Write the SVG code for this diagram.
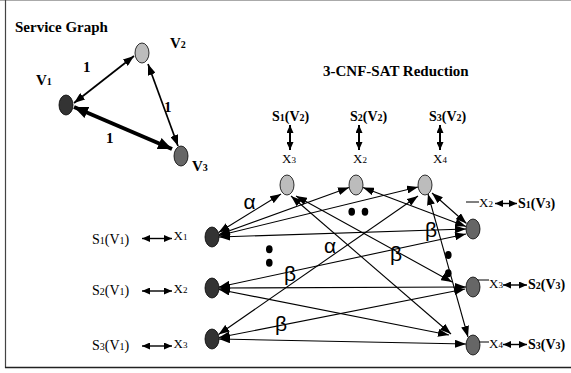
<svg xmlns="http://www.w3.org/2000/svg" width="571" height="373" viewBox="0 0 571 373">
  <defs>
    <style>
      .tb{font-family:"Liberation Serif","Times New Roman",serif;font-weight:bold;font-size:15px;fill:#000}
      .sb{font-family:"Liberation Serif","Times New Roman",serif;font-weight:bold;font-size:14px;fill:#000}
      .sn{font-family:"Liberation Serif","Times New Roman",serif;font-size:14px;fill:#000}
      .xv{font-family:"Liberation Serif","Times New Roman",serif;font-size:13px;fill:#000}
      .gr{font-family:"Liberation Sans",Arial,sans-serif;font-size:21px;fill:#000}
      .sub{font-size:10px}
      .xsub{font-size:9px}
      .dark{fill:#333;stroke:#000;stroke-width:.8}
      .light{fill:#bcbcbc;stroke:#000;stroke-width:.8}
      .mid{fill:#666;stroke:#000;stroke-width:.8}
      .e{fill:none;stroke:#000;stroke-width:1.1;marker-start:url(#ah);marker-end:url(#ah)}
      .sg{fill:none;stroke:#000;stroke-width:1.7;marker-start:url(#ah);marker-end:url(#ah)}
      .sgt{fill:none;stroke:#000;stroke-width:4;marker-start:url(#ahBig);marker-end:url(#ahBig)}
      .lv{fill:none;stroke:#000;stroke-width:2;marker-start:url(#ahSm);marker-end:url(#ahSm)}
      .lh{fill:none;stroke:#000;stroke-width:1.4;marker-start:url(#ahSm);marker-end:url(#ahSm)}
      .tick{fill:none;stroke:#000;stroke-width:1}
      .dot{fill:#000}
    </style>
    <marker id="ah" markerUnits="userSpaceOnUse" viewBox="0 0 11 8" refX="11" refY="4" markerWidth="11" markerHeight="8" orient="auto-start-reverse">
      <path d="M0,0 L11,4 L0,8 z" fill="#000"/>
    </marker>
    <marker id="ahBig" markerUnits="userSpaceOnUse" viewBox="0 0 14 12" refX="14" refY="6" markerWidth="14" markerHeight="12" orient="auto-start-reverse">
      <path d="M0,0 L14,6 L0,12 z" fill="#000"/>
    </marker>
    <marker id="ahSm" markerUnits="userSpaceOnUse" viewBox="0 0 8 7" refX="8" refY="3.5" markerWidth="8" markerHeight="7" orient="auto-start-reverse">
      <path d="M0,0 L8,3.5 L0,7 z" fill="#000"/>
    </marker>
  </defs>

  <rect width="571" height="373" fill="#fff"/>

  <!-- frame -->
  <g id="frame">
    <line x1="0" y1="0.5" x2="571" y2="0.5" stroke="#aaa" stroke-width="1.2"/>
    <line x1="5.5" y1="0" x2="5.5" y2="368" stroke="#444" stroke-width="1.2"/>
    <line x1="5" y1="367.5" x2="571" y2="367.5" stroke="#222" stroke-width="1.4"/>
  </g>

  <!-- titles -->
  <text class="tb" x="15" y="32">Service Graph</text>
  <text class="tb" x="323" y="76">3-CNF-SAT Reduction</text>

  <!-- connectors -->
  <g id="connectors">
    <!-- service graph -->
    <line class="sg" x1="74" y1="103" x2="134" y2="56"/>
    <line class="sg" x1="148" y1="64" x2="178" y2="146"/>
    <line class="sgt" x1="74" y1="107" x2="172" y2="149"/>

    <!-- reduction graph -->
    <line class="e" x1="218.5" y1="232.5" x2="281" y2="194"/>
    <line class="e" x1="219" y1="234.5" x2="349" y2="187.5"/>
    <line class="e" x1="219" y1="235.5" x2="418" y2="187"/>
    <line class="e" x1="219" y1="237" x2="466" y2="229"/>
    <line class="e" x1="296" y1="196" x2="452" y2="282"/>
    <line class="e" x1="291" y1="196" x2="451" y2="334"/>
    <line class="e" x1="363" y1="187.5" x2="466" y2="226.5"/>
    <line class="e" x1="432" y1="193" x2="466.5" y2="223.5"/>
    <line class="e" x1="418" y1="196" x2="218.5" y2="334.5"/>
    <line class="e" x1="428" y1="194" x2="468" y2="337"/>
    <line class="e" x1="219" y1="287" x2="466" y2="234"/>
    <line class="e" x1="219" y1="288" x2="466" y2="287"/>
    <line class="e" x1="219" y1="289.5" x2="449" y2="335"/>
    <line class="e" x1="219" y1="337.5" x2="465" y2="289"/>
    <line class="e" x1="219" y1="339" x2="466" y2="344"/>

    <!-- variable label links -->
    <line class="lv" x1="290" y1="125" x2="290" y2="150"/>
    <line class="lv" x1="359" y1="125" x2="359" y2="150"/>
    <line class="lv" x1="440" y1="125" x2="440" y2="150"/>

    <line class="lh" x1="142" y1="238.5" x2="172" y2="238.5"/>
    <line class="lh" x1="142" y1="291" x2="172" y2="291"/>
    <line class="lh" x1="142" y1="346" x2="172" y2="346"/>

    <line class="tick" x1="466" y1="202" x2="479" y2="202"/>
    <line class="lh" x1="495" y1="203.5" x2="517" y2="203.5"/>
    <line class="tick" x1="477" y1="280" x2="489" y2="280"/>
    <line class="lh" x1="503" y1="285" x2="527" y2="285"/>
    <line class="tick" x1="477" y1="342" x2="489" y2="342"/>
    <line class="lh" x1="503" y1="344.5" x2="527" y2="344.5"/>
  </g>

  <!-- service graph nodes -->
  <g id="v1">
    <ellipse class="dark" cx="66" cy="105" rx="7" ry="10"/>
    <text class="tb" x="36" y="85">V<tspan class="sub">1</tspan></text>
  </g>
  <g id="v2">
    <ellipse class="light" cx="142" cy="53" rx="7" ry="10"/>
    <text class="tb" x="170" y="48">V<tspan class="sub">2</tspan></text>
  </g>
  <g id="v3">
    <ellipse class="mid" cx="181" cy="156" rx="7" ry="10"/>
    <text class="tb" x="192" y="171">V<tspan class="sub">3</tspan></text>
  </g>
  <g id="weights">
    <text class="tb" x="83" y="72">1</text>
    <text class="tb" x="164" y="112">1</text>
    <text class="tb" x="106" y="143">1</text>
  </g>

  <!-- top row: S(V2) variables -->
  <g id="t1">
    <text class="sb" x="272" y="121">S<tspan class="sub">1</tspan>(V<tspan class="sub">2</tspan>)</text>
    <text class="xv" x="282" y="163">X<tspan class="xsub">3</tspan></text>
    <ellipse class="light" cx="287" cy="185" rx="7" ry="10"/>
  </g>
  <g id="t2">
    <text class="sb" x="350" y="121">S<tspan class="sub">2</tspan>(V<tspan class="sub">2</tspan>)</text>
    <text class="xv" x="353" y="163">X<tspan class="xsub">2</tspan></text>
    <ellipse class="light" cx="356" cy="185" rx="7" ry="10"/>
  </g>
  <g id="t3">
    <text class="sb" x="429" y="121">S<tspan class="sub">3</tspan>(V<tspan class="sub">2</tspan>)</text>
    <text class="xv" x="433" y="163">X<tspan class="xsub">4</tspan></text>
    <ellipse class="light" cx="425" cy="185" rx="7" ry="10"/>
  </g>

  <!-- left column: S(V1) variables -->
  <g id="l1">
    <text class="sn" x="92" y="243.5">S<tspan class="sub">1</tspan>(V<tspan class="sub">1</tspan>)</text>
    <text class="xv" x="173.5" y="239.5">X<tspan class="xsub">1</tspan></text>
    <ellipse class="dark" cx="212" cy="237" rx="7" ry="10"/>
  </g>
  <g id="l2">
    <text class="sn" x="92" y="295">S<tspan class="sub">2</tspan>(V<tspan class="sub">1</tspan>)</text>
    <text class="xv" x="173.5" y="292.5">X<tspan class="xsub">2</tspan></text>
    <ellipse class="dark" cx="212" cy="288" rx="7" ry="10"/>
  </g>
  <g id="l3">
    <text class="sn" x="92" y="350">S<tspan class="sub">3</tspan>(V<tspan class="sub">1</tspan>)</text>
    <text class="xv" x="173.5" y="348">X<tspan class="xsub">3</tspan></text>
    <ellipse class="dark" cx="212" cy="339" rx="7" ry="10"/>
  </g>

  <!-- right column: S(V3) variables -->
  <g id="r1">
    <ellipse class="mid" cx="473" cy="229" rx="7" ry="10"/>
    <text class="xv" x="479" y="206.5">X<tspan class="xsub">2</tspan></text>
    <text class="sb" x="518" y="208">S<tspan class="sub">1</tspan>(V<tspan class="sub">3</tspan>)</text>
  </g>
  <g id="r2">
    <ellipse class="mid" cx="473" cy="287" rx="7" ry="10"/>
    <text class="xv" x="489" y="288">X<tspan class="xsub">3</tspan></text>
    <text class="sb" x="528" y="288.5">S<tspan class="sub">2</tspan>(V<tspan class="sub">3</tspan>)</text>
  </g>
  <g id="r3">
    <ellipse class="mid" cx="473" cy="345" rx="7" ry="10"/>
    <text class="xv" x="489" y="348">X<tspan class="xsub">4</tspan></text>
    <text class="sb" x="528" y="349">S<tspan class="sub">3</tspan>(V<tspan class="sub">3</tspan>)</text>
  </g>

  <!-- edge labels -->
  <g id="edge-labels">
    <text class="gr" x="249.5" y="208.5" text-anchor="middle">α</text>
    <text class="gr" x="330" y="253" text-anchor="middle">α</text>
    <text class="gr" x="290" y="281" text-anchor="middle">β</text>
    <text class="gr" x="281" y="331" text-anchor="middle">β</text>
    <text class="gr" x="396" y="261" text-anchor="middle">β</text>
    <text class="gr" x="431" y="237" text-anchor="middle">β</text>
  </g>

  <!-- ellipsis dots -->
  <g id="ellipses">
    <ellipse class="dot" cx="269.3" cy="249.3" rx="3.3" ry="4"/>
    <ellipse class="dot" cx="269.3" cy="262.7" rx="3.3" ry="4"/>
    <ellipse class="dot" cx="351.7" cy="211.7" rx="3.3" ry="4"/>
    <ellipse class="dot" cx="365" cy="211.7" rx="3.3" ry="4"/>
    <ellipse class="dot" cx="448.3" cy="255" rx="3.3" ry="4"/>
    <ellipse class="dot" cx="448.3" cy="273.3" rx="3.3" ry="4"/>
  </g>
</svg>
